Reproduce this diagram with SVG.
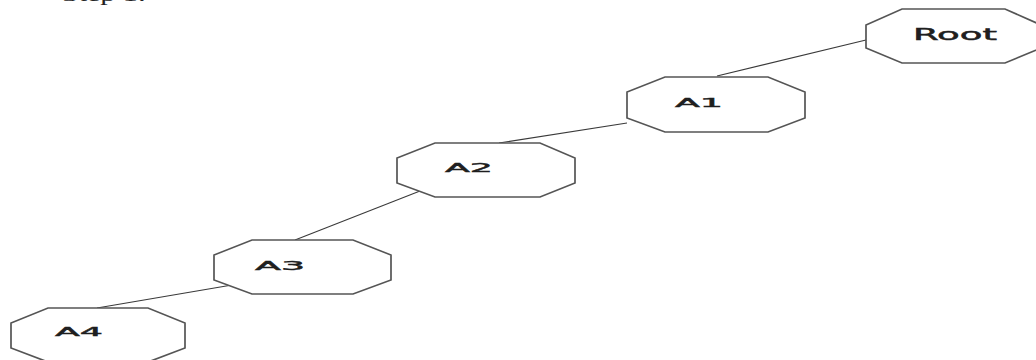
<svg xmlns="http://www.w3.org/2000/svg" width="1036" height="360" viewBox="0 0 1036 360">
  <style>
    .oct { fill: #ffffff; stroke: #555555; stroke-width: 1.7; stroke-linejoin: miter; }
    .lbl { font-family: "DejaVu Sans", Verdana, sans-serif; font-size: 13px; fill: #1e1e1e; stroke: #1e1e1e; stroke-width: 0.45; }
    .big { font-size: 15px; }
    .edge { stroke: #3a3a3a; stroke-width: 1.1; fill: none; }
    .cap { font-family: "Liberation Serif", serif; font-size: 16px; fill: #222222; }
  </style>
  <rect width="1036" height="360" fill="#ffffff"/>
  <text class="cap" x="62" y="1" textLength="84" lengthAdjust="spacingAndGlyphs">Step 1:</text>
  <g id="connectors">
    <line class="edge" x1="866" y1="40" x2="717" y2="76"/>
    <line class="edge" x1="627" y1="123" x2="499" y2="143"/>
    <line class="edge" x1="420" y1="191" x2="295" y2="240"/>
    <line class="edge" x1="232" y1="285" x2="97" y2="308"/>
  </g>
  <g id="root">
    <polygon class="oct" points="902,9 1005,9 1041,25 1041,48 1005,63 902,63 866,48 866,25"/>
    <text class="lbl big" x="913" y="40" textLength="84" lengthAdjust="spacingAndGlyphs">Root</text>
  </g>
  <g id="a1">
    <polygon class="oct" points="665,77 768,77 805,92 805,118 768,132 665,132 627,118 627,92"/>
    <text class="lbl" x="675" y="107" textLength="48" lengthAdjust="spacingAndGlyphs">A1</text>
  </g>
  <g id="a2">
    <polygon class="oct" points="435,143 540,143 575,158 575,183 540,197 435,197 397,183 397,158"/>
    <text class="lbl" x="445" y="172" textLength="48" lengthAdjust="spacingAndGlyphs">A2</text>
  </g>
  <g id="a3">
    <polygon class="oct" points="252,240 353,240 391,255 391,280 353,294 252,294 214,280 214,255"/>
    <text class="lbl" x="255" y="270" textLength="50" lengthAdjust="spacingAndGlyphs">A3</text>
  </g>
  <g id="a4">
    <polygon class="oct" points="48,308 148,308 185,323 185,348 148,362 48,362 11,348 11,323"/>
    <text class="lbl" x="55" y="336" textLength="48" lengthAdjust="spacingAndGlyphs">A4</text>
  </g>
</svg>
